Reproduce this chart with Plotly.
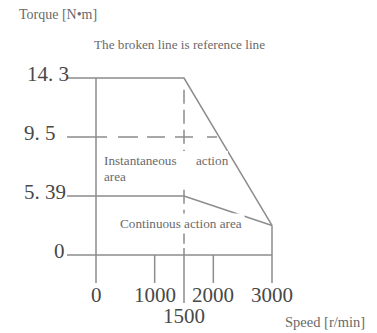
import numpy as np
import plotly.graph_objects as go

# ---- data -------------------------------------------------------------
speed_ticks = [0, 1000, 1500, 2000, 3000]
speed_tick_labels = ["0", "1000", "1500", "2000", "3000"]

torque_ticks = [0, 5.39, 9.5, 14.3]
torque_tick_labels = ["0", "5. 39", "9. 5", "14. 3"]

instant_speed = [0, 1500, 3000]
instant_torque = [14.3, 14.3, 2.7]

cont_speed = [0, 1500, 3000]
cont_torque = [5.39, 5.39, 2.7]

ref_torque = 9.5
corner_speed = 1500

# ---- layout constants -------------------------------------------------
W, H = 377, 333
X0_PX, PX_PER_RPM = 96, 176 / 3000      # speed 0 sits at x=96px
Y0_PX, PX_PER_LEVEL = 255, 59           # torque 0 sits at y=255px
LINE = dict(color="#8c8c8c", width=1.5)
NUM_FONT = dict(family="Liberation Serif", size=21, color="#484848")
TXT_FONT = dict(family="Liberation Serif", size=13.2, color="#6a6a6a")

x_range = [-X0_PX / PX_PER_RPM, (W - X0_PX) / PX_PER_RPM]
y_range = [-(H - Y0_PX) / PX_PER_LEVEL, Y0_PX / PX_PER_LEVEL]


def level(t):
    """Torque axis is drawn with evenly spaced graduations."""
    return np.interp(t, torque_ticks, np.arange(len(torque_ticks)))


def px_to_speed(px):
    return (px - X0_PX) / PX_PER_RPM


def px_to_level(py):
    return (Y0_PX - py) / PX_PER_LEVEL


def pxx(px):
    return px / W


def pxy(py):
    return 1 - py / H


lead_x = px_to_speed(67)      # left end of graduation leaders
foot = px_to_level(283)       # lower end of the speed tick marks

fig = go.Figure()


def seg(x, y, dash=None):
    fig.add_trace(go.Scatter(x=list(x), y=list(y), mode="lines",
                             line=dict(**LINE, dash=dash),
                             hoverinfo="skip", showlegend=False))


# instantaneous (peak) torque curve
seg([lead_x] + instant_speed, level([instant_torque[0]] + instant_torque))
# continuous torque curve
seg([lead_x] + cont_speed, level([cont_torque[0]] + cont_torque))
# zero torque baseline
seg([lead_x, speed_ticks[-1]], level([0, 0]))

# reference (broken) line at 9.5 up to the falling edge
top_l, end_l = level(instant_torque[1]), level(instant_torque[2])
ref_l = level(ref_torque)
x_hit = instant_speed[1] + (top_l - ref_l) / (top_l - end_l) * (instant_speed[2] - instant_speed[1])
seg([lead_x, x_hit], [ref_l, ref_l], dash="40px,11px,20px,9px,18px,10px,18px,14px,10px")

# vertical reference line at the corner speed
seg([corner_speed, corner_speed], [level(instant_torque[1]) - 0.2, px_to_level(247)], dash="14px,6px")

# speed axis (vertical line at 0) and speed tick marks
seg([0, 0], [level(instant_torque[0]), foot])
for s in speed_ticks[1:]:
    if s == corner_speed:
        seg([s, s], [px_to_level(248), px_to_level(303)])
    elif s == speed_ticks[-1]:
        seg([s, s], [level(instant_torque[-1]), foot])
    else:
        seg([s, s], [0, foot])

# white backing behind the instantaneous-area label
fig.add_shape(type="rect", xref="paper", yref="paper", layer="above",
              x0=pxx(100), x1=pxx(228), y0=pxy(186), y1=pxy(151),
              fillcolor="white", line=dict(width=0))

ann = []
# torque graduation labels
torque_label_px = [52, 22, 22, 25]
for t, lab, lx in zip(torque_ticks, torque_tick_labels, torque_label_px):
    ann.append(dict(x=pxx(lx), y=pxy(Y0_PX - level(t) * PX_PER_LEVEL - 4),
                    text=lab, xanchor="left", yanchor="middle", font=NUM_FONT))
# speed graduation labels
for s, lab in zip(speed_ticks, speed_tick_labels):
    cy = 316 if s == corner_speed else 295
    ann.append(dict(x=pxx(X0_PX + s * PX_PER_RPM), y=pxy(cy), text=lab,
                    xanchor="center", yanchor="middle", font=NUM_FONT))

ann += [
    dict(x=pxx(17), y=pxy(14), text="Torque [N•m]", xanchor="left",
         yanchor="middle", font=dict(TXT_FONT, size=14)),
    dict(x=pxx(179), y=pxy(44), text="The broken line is reference line",
         xanchor="center", yanchor="middle", font=dict(TXT_FONT, size=13.2)),
    dict(x=pxx(102), y=pxy(160), text="Instantaneous", xanchor="left",
         yanchor="middle", font=TXT_FONT),
    dict(x=pxx(194), y=pxy(160), text="action", xanchor="left",
         yanchor="middle", font=TXT_FONT),
    dict(x=pxx(102), y=pxy(176), text="area", xanchor="left",
         yanchor="middle", font=TXT_FONT),
    dict(x=pxx(181), y=pxy(223), text="Continuous action area",
         xanchor="center", yanchor="middle", font=TXT_FONT,
         bgcolor="white", borderpad=2),
    dict(x=pxx(283), y=pxy(322), text="Speed [r/min]", xanchor="left",
         yanchor="middle", font=dict(TXT_FONT, size=14.5)),
]
for a in ann:
    a.update(xref="paper", yref="paper", showarrow=False)

fig.update_layout(
    width=W, height=H, autosize=False,
    margin=dict(l=0, r=0, t=0, b=0),
    paper_bgcolor="white", plot_bgcolor="white",
    xaxis=dict(range=x_range, visible=False, fixedrange=True),
    yaxis=dict(range=y_range, visible=False, fixedrange=True),
    annotations=ann,
)

fig.write_html("out.html")
